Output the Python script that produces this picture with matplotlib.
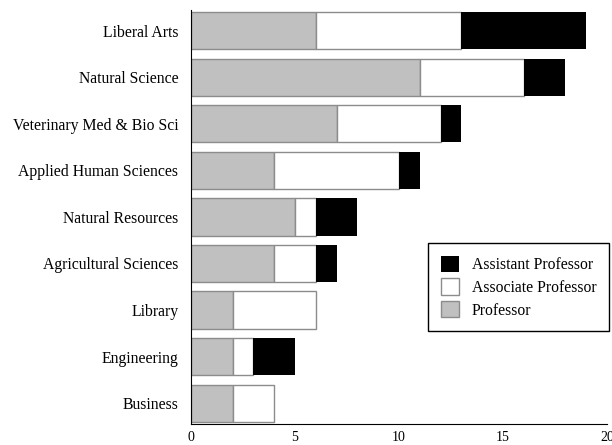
import numpy as np
import matplotlib
matplotlib.use('Agg')
import matplotlib.pyplot as plt

plt.rcParams['font.family'] = ['Liberation Serif', 'DejaVu Serif']

# data, bottom to top
colleges = ['Business', 'Engineering', 'Library', 'Agricultural Sciences',
            'Natural Resources', 'Applied Human Sciences',
            'Veterinary Med & Bio Sci', 'Natural Science', 'Liberal Arts']
professor = [2, 2, 2, 4, 5, 4, 7, 11, 6]
associate = [2, 1, 4, 2, 1, 6, 5, 5, 7]
assistant = [0, 2, 0, 1, 2, 1, 1, 2, 6]

fig = plt.figure(figsize=(6.12, 4.45), dpi=100)
ax = fig.add_axes([0.312, 0.047, 0.68, 0.931])

y = np.arange(len(colleges))
h = 0.8
edge = '#8c8c8c'
b1 = ax.barh(y, professor, height=h, color='#c0c0c0', edgecolor=edge, linewidth=1, label='Professor')
b2 = ax.barh(y, associate, left=professor, height=h, color='white', edgecolor=edge, linewidth=1, label='Associate Professor')
left3 = np.array(professor) + np.array(associate)
b3 = ax.barh(y, assistant, left=left3, height=h, color='black', linewidth=0, label='Assistant Professor')

ax.set_xlim(0, 20)
ax.set_ylim(-0.45, 8.45)
ax.set_yticks(y)
ax.set_yticklabels(colleges, fontsize=11.3)
ax.set_xticks([0, 5, 10, 15, 20])
ax.tick_params(axis='both', length=0)
ax.tick_params(axis='x', labelsize=10, pad=5)
ax.tick_params(axis='y', pad=9)
ax.spines['top'].set_visible(False)
ax.spines['right'].set_visible(False)

leg = ax.legend(handles=[b3, b2, b1], loc='upper right', bbox_to_anchor=(1.005, 0.437),
                borderaxespad=0, fancybox=False, edgecolor='black', fontsize=11.3, framealpha=1,
                handlelength=1.2, handleheight=1.2, borderpad=0.8, labelspacing=0.35)
leg.get_frame().set_linewidth(1)

fig.savefig('out.png', dpi=100)
